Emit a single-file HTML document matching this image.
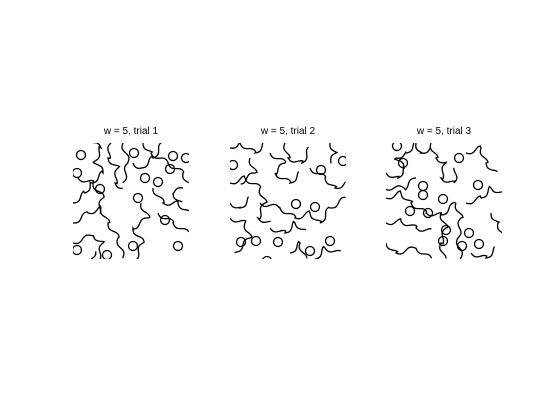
<!DOCTYPE html>
<html><head><meta charset="utf-8"><style>
html,body{margin:0;padding:0;background:#fff;}
svg{display:block;font-family:"Liberation Sans",sans-serif;}
</style></head><body>
<svg id="c" width="560" height="419" viewBox="0 0 560 419">
<rect width="560" height="419" fill="#fff"/>
</svg>
<script>
const panelTitles=["w = 5, trial 1","w = 5, trial 2","w = 5, trial 3"];
const panelX=[73,230,386];
const panelY=143;
const panelSize=116;
// circle centers (local px within panel)
const circles1=[[8,12],[4,30],[27,46],[65,55],[61,10],[72,35],[85,39],[100,13],[97,26],[113,15],[92,77],[105,103],[4,107],[34,112],[60,103]];
const circles2=[[3,22],[113,18],[91,27],[66,61],[85,64],[26,98],[48,99],[100,98],[80,108],[11,99],[37,118]];
const circles3=[[17,20],[73,15],[37,43],[37,52],[57,56],[92,42],[24,68],[42,70],[60,87],[57,98],[83,90],[93,101],[76,103],[11,3]];
// contour polylines (local px), drawn with a wiggle
const lines1=[[[0,60],[12,50],[18,40],[30,30],[22,18],[28,5],[20,0]],[[0,80],[15,70],[28,65],[35,80],[45,95],[50,115]],[[38,0],[35,15],[45,25],[42,40],[50,45]],[[50,0],[55,20],[50,40]],[[68,60],[75,75],[60,85],[70,100],[62,116]],[[70,0],[78,10],[95,20],[110,30],[115,40]],[[80,45],[90,60],[105,60],[116,70]],[[0,100],[20,92],[30,100],[25,116]],[[5,35],[20,40],[30,55],[25,70]],[[60,20],[68,25],[80,15],[90,0]],[[85,70],[100,80],[115,90]],[[110,45],[100,50],[108,60]],[[18,116],[22,108]]];
const lines2=[[[0,5],[10,0],[25,10],[35,0]],[[0,40],[15,35],[30,45],[35,60],[28,75],[40,80]],[[40,10],[55,20],[45,30],[60,40],[70,30]],[[0,75],[15,80],[20,95],[5,110]],[[30,60],[50,65],[65,75],[80,70],[90,80],[100,65],[116,55]],[[55,0],[58,15],[72,20],[80,5]],[[80,25],[95,35],[105,45],[116,40]],[[40,85],[55,90],[65,80],[75,88]],[[85,116],[95,105],[110,110]],[[60,110],[70,100],[75,116]],[[0,60],[10,65],[20,55]],[[100,0],[106,10],[100,20]],[[20,15],[25,30],[10,40]]];
const lines3=[[[0,30],[12,35],[18,25],[10,15],[20,10],[30,0]],[[0,55],[15,50],[25,60],[40,70],[55,72],[70,60]],[[45,0],[50,15],[60,20],[55,35],[68,40],[70,25]],[[70,60],[75,75],[72,95],[75,116]],[[80,60],[95,55],[105,45],[116,50]],[[0,80],[15,78],[30,85],[45,88]],[[55,70],[60,85],[55,100],[58,116]],[[30,0],[35,10],[45,5]],[[80,10],[95,5],[100,20],[110,30]],[[0,100],[10,110],[30,105],[45,116]],[[85,110],[100,115],[110,105]],[[105,70],[112,80],[116,90]],[[30,35],[18,45],[0,45]]];
const allCircles=[circles1,circles2,circles3];
const allLines=[lines1,lines2,lines3];
const svg=document.getElementById('c');
const NS='http://www.w3.org/2000/svg';
function wiggle(pts){
  let d='';let first=true;
  for(let i=0;i<pts.length-1;i++){
    const [x0,y0]=pts[i],[x1,y1]=pts[i+1];
    const L=Math.hypot(x1-x0,y1-y0),n=Math.max(4,Math.round(L/1.5));
    const nx=-(y1-y0)/L,ny=(x1-x0)/L;
    for(let k=0;k<=n;k++){
      const t=k/n,s=Math.sin(t*L/3.2)*2.2;
      const x=x0+(x1-x0)*t+nx*s,y=y0+(y1-y0)*t+ny*s;
      d+=(first?'M':'L')+x.toFixed(1)+','+y.toFixed(1);first=false;
    }
  }
  return d;
}
for(let p=0;p<3;p++){
  const g=document.createElementNS(NS,'g');
  
  
  g.setAttribute('transform','translate('+panelX[p]+','+panelY+')');
  const cp=document.createElementNS(NS,'clipPath');cp.setAttribute('id','cp'+p);
  const r=document.createElementNS(NS,'rect');r.setAttribute('width',panelSize);r.setAttribute('height',panelSize);
  cp.appendChild(r);g.appendChild(cp);
  const inner=document.createElementNS(NS,'g');inner.setAttribute('clip-path','url(#cp'+p+')');
  allLines[p].forEach(l=>{
    const e=document.createElementNS(NS,'path');
    
    
    e.setAttribute('d',wiggle(l));e.setAttribute('fill','none');e.setAttribute('stroke','#000');e.setAttribute('stroke-width','1.3');
    inner.appendChild(e);
  });
  allCircles[p].forEach(c=>{
    const e=document.createElementNS(NS,'circle');
    
    
    e.setAttribute('cx',c[0]);e.setAttribute('cy',c[1]);e.setAttribute('r',4.5);
    e.setAttribute('fill','none');e.setAttribute('stroke','#000');e.setAttribute('stroke-width','1.3');
    inner.appendChild(e);
  });
  g.appendChild(inner);
  const t=document.createElementNS(NS,'text');
  
  
  t.setAttribute('x',panelSize/2);t.setAttribute('y',-9);t.setAttribute('text-anchor','middle');
  t.setAttribute('font-size','10');t.textContent=panelTitles[p];
  g.appendChild(t);
  svg.appendChild(g);
}
</script>
</body></html>
